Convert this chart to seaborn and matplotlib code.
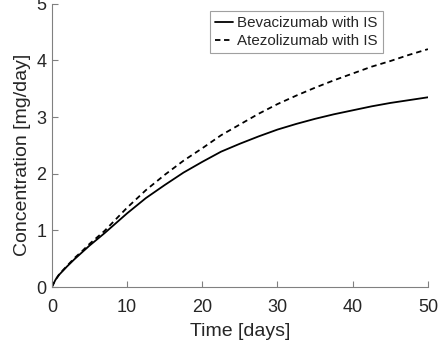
import matplotlib
matplotlib.use("Agg")
import matplotlib.pyplot as plt
import seaborn as sns
import pandas as pd

days = [0, 0.5, 1, 2, 3, 4, 5, 7, 10, 12.5, 15, 17.5, 20, 22.5, 25, 27.5,
        30, 32.5, 35, 37.5, 40, 42.5, 45, 47.5, 50]
bevacizumab = [0, 0.13, 0.22, 0.36, 0.49, 0.61, 0.73, 0.95, 1.30, 1.57, 1.80,
               2.02, 2.21, 2.39, 2.53, 2.66, 2.78, 2.88, 2.97, 3.05, 3.12,
               3.19, 3.25, 3.30, 3.35]
atezolizumab = [0, 0.13, 0.23, 0.37, 0.51, 0.63, 0.76, 0.99, 1.40, 1.71, 1.98,
                2.23, 2.45, 2.68, 2.87, 3.06, 3.23, 3.38, 3.52, 3.65, 3.77,
                3.89, 3.99, 4.10, 4.20]
labels = ["Bevacizumab with IS", "Atezolizumab with IS"]
xticks = [0, 10, 20, 30, 40, 50]
yticks = [0, 1, 2, 3, 4, 5]

df = pd.concat([
    pd.DataFrame({"Time": days, "Conc": bevacizumab, "Drug": labels[0]}),
    pd.DataFrame({"Time": days, "Conc": atezolizumab, "Drug": labels[1]}),
])

sns.set_theme(style="white")
plt.rcParams["font.family"] = ["Liberation Sans", "DejaVu Sans"]

fig = plt.figure(figsize=(4.43, 3.5), dpi=100)
ax = fig.add_axes([0.117, 0.18, 0.849, 0.809])

sns.lineplot(data=df, x="Time", y="Conc", hue="Drug", style="Drug",
             palette=["black", "black"], dashes=[(None, None), (3, 2)],
             linewidth=1.3, ax=ax)
ax.lines[0].set_linestyle("-")
ax.lines[1].set_linestyle((0, (3, 2.2)))

ax.set_xlim(0, 50)
ax.set_ylim(0, 5)
ax.set_xticks(xticks)
ax.set_yticks(yticks)
ax.set_xlabel("Time [days]", fontsize=14, color="#262626", labelpad=5)
ax.set_ylabel("Concentration [mg/day]", fontsize=14, color="#262626")
ax.yaxis.set_label_coords(-0.055, 0.465)

for s in ["top", "right"]:
    ax.spines[s].set_visible(False)
for s in ["left", "bottom"]:
    ax.spines[s].set_color("#808080")
    ax.spines[s].set_linewidth(0.8)
ax.tick_params(axis="both", direction="in", length=4, width=0.8,
               color="#808080", labelsize=13, labelcolor="#262626",
               left=True, bottom=True)
ax.tick_params(axis="x", pad=9)
ax.tick_params(axis="y", pad=4)

h, l = ax.get_legend_handles_labels()
leg = ax.legend(h, l, loc="upper right", bbox_to_anchor=(0.880, 0.975),
                fontsize=10.9, frameon=True, fancybox=False, framealpha=1,
                edgecolor="#a0a0a0", borderpad=0.35, labelspacing=0.25,
                handlelength=1.2, handletextpad=0.25, borderaxespad=0)
leg.get_frame().set_linewidth(0.8)

fig.savefig("out.png", dpi=100)
